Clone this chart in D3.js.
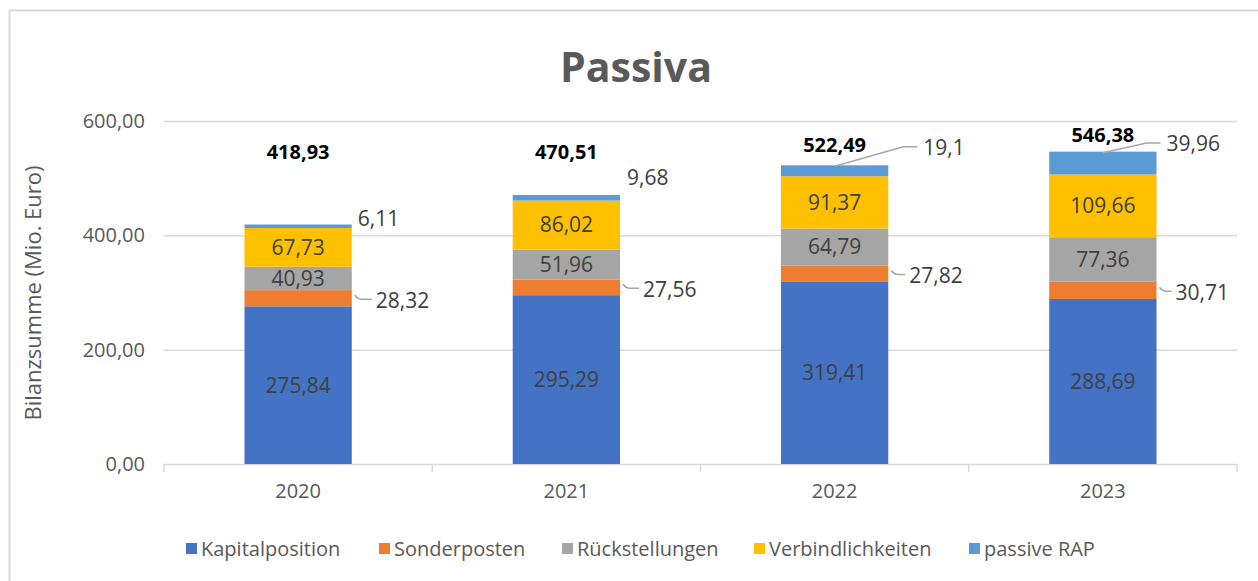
<!DOCTYPE html>
<html>
<head>
<meta charset="utf-8">
<script src="https://cdn.jsdelivr.net/npm/d3@7"></script>
<style>
  body { margin: 0; background: #fff; }
  text { font-family: "Open Sans", sans-serif; }
</style>
</head>
<body>
<script>
//chart data
var years = ["2020", "2021", "2022", "2023"];
var seriesNames = ["Kapitalposition", "Sonderposten", "Rückstellungen", "Verbindlichkeiten", "passive RAP"];
var kapitalposition = [275.84, 295.29, 319.41, 288.69];
var sonderposten = [28.32, 27.56, 27.82, 30.71];
var rueckstellungen = [40.93, 51.96, 64.79, 77.36];
var verbindlichkeiten = [67.73, 86.02, 91.37, 109.66];
var passiveRAP = [6.11, 9.68, 19.1, 39.96];
var totals = [418.93, 470.51, 522.49, 546.38];
var yTicks = [0, 200, 400, 600];

var colors = ["#4472C4", "#ED7D31", "#A5A5A5", "#FFC000", "#5B9BD5"];

//label placement (pixels), tuned by hand like in the original chart
var totalLift = [73, 43, 20, 17];
var sonderDx = [24, 23, 21, 19];
var rapDx = [6, 7, 35, 10];
var rapDy = [-8, -20, -23, -19];
var rapLeader = [false, false, true, true];

var w = 1258, h = 581;

var svg = d3.select("body")
    .append("svg")
    .attr("width", w)
    .attr("height", h);

//outer frame
svg.append("rect")
    .attr("x", 9.5)
    .attr("y", 10.5)
    .attr("width", 1300)
    .attr("height", 700)
    .style("fill", "none")
    .style("stroke", "#d9d9d9")
    .style("stroke-width", 2);

var x = d3.scaleBand()
    .domain(years)
    .range([164, 1237])
    .paddingInner(0.6)
    .paddingOuter(0.3);

var y = d3.scaleLinear()
    .domain([0, 600])
    .range([464, 121]);

var fmt = function(v){
    return String(v).replace(".", ",");
};
var fmt2 = function(v){
    return v.toFixed(2).replace(".", ",");
};

//gridlines
svg.append("g")
    .selectAll("line")
    .data(yTicks.slice(1))
    .enter()
    .append("line")
    .attr("x1", 164)
    .attr("x2", 1237)
    .attr("y1", function(d){ return y(d) + 0.5; })
    .attr("y2", function(d){ return y(d) + 0.5; })
    .style("stroke", "#d9d9d9")
    .style("stroke-width", 1.5);

//y axis labels
var yAxis = d3.axisLeft(y)
    .tickValues(yTicks)
    .tickSize(0)
    .tickPadding(19)
    .tickFormat(fmt2);

var yg = svg.append("g")
    .attr("transform", "translate(164,0)")
    .call(yAxis);
yg.select(".domain").remove();
yg.selectAll("text")
    .style("font-size", "20px")
    .style("fill", "#595959")
    .style("font-family", "Open Sans, sans-serif");

//x axis
var xAxis = d3.axisBottom(x)
    .tickSize(0)
    .tickPadding(20);

var xg = svg.append("g")
    .attr("transform", "translate(0,464)")
    .call(xAxis);
xg.select(".domain")
    .attr("d", "M164,0.5H1237")
    .style("stroke", "#d9d9d9")
    .style("stroke-width", 1.5);
xg.selectAll("text")
    .style("font-size", "20px")
    .style("fill", "#595959")
    .style("font-family", "Open Sans, sans-serif");

//category boundary ticks
xg.selectAll(".sep")
    .data(d3.range(years.length + 1))
    .enter()
    .append("line")
    .attr("class", "sep")
    .attr("x1", function(i){ return 164 + i * x.step(); })
    .attr("x2", function(i){ return 164 + i * x.step(); })
    .attr("y1", 0)
    .attr("y2", 8)
    .style("stroke", "#d9d9d9")
    .style("stroke-width", 1.5);

//stack the series
var rows = years.map(function(yr, i){
    return {
        year: yr,
        s0: kapitalposition[i],
        s1: sonderposten[i],
        s2: rueckstellungen[i],
        s3: verbindlichkeiten[i],
        s4: passiveRAP[i]
    };
});
var keys = ["s0", "s1", "s2", "s3", "s4"];
var stacked = d3.stack().keys(keys)(rows);

var layers = svg.selectAll(".layer")
    .data(stacked)
    .enter()
    .append("g")
    .attr("class", "layer")
    .style("fill", function(d, i){ return colors[i]; });

layers.selectAll("rect")
    .data(function(d){ return d; })
    .enter()
    .append("rect")
    .attr("x", function(d){ return x(d.data.year); })
    .attr("width", x.bandwidth())
    .attr("y", function(d){ return y(d[1]); })
    .attr("height", function(d){ return y(d[0]) - y(d[1]); });

//labels inside bars (Kapitalposition, Rückstellungen, Verbindlichkeiten)
[0, 2, 3].forEach(function(k){
    svg.append("g")
        .selectAll("text")
        .data(stacked[k])
        .enter()
        .append("text")
        .attr("x", function(d){ return x(d.data.year) + x.bandwidth() / 2; })
        .attr("y", function(d){ return y((d[0] + d[1]) / 2); })
        .attr("dy", "0.35em")
        .attr("text-anchor", "middle")
        .style("font-size", "21px")
        .style("fill", "#404040")
        .text(function(d){ return fmt(d.data[keys[k]]); });
});

//Sonderposten labels to the right with small leader line
var sonder = svg.append("g");
stacked[1].forEach(function(d, i){
    var xr = x(d.data.year) + x.bandwidth();
    var ym = y((d[0] + d[1]) / 2);
    sonder.append("path")
        .attr("d", "M" + (xr + 3) + "," + (ym - 3) + "Q" + (xr + 6) + "," + (ym + 1) +
              " " + (xr + 10) + "," + (ym + 1) + "H" + (xr + sonderDx[i] - 4))
        .style("fill", "none")
        .style("stroke", "#a6a6a6")
        .style("stroke-width", 1.5);
    sonder.append("text")
        .attr("x", xr + sonderDx[i])
        .attr("y", ym + 2)
        .attr("dy", "0.35em")
        .style("font-size", "21px")
        .style("fill", "#404040")
        .text(fmt(sonderposten[i]));
});

//passive RAP labels
var rap = svg.append("g");
stacked[4].forEach(function(d, i){
    var xr = x(d.data.year) + x.bandwidth();
    var ym = y((d[0] + d[1]) / 2);
    var lx = xr + rapDx[i];
    var ly = ym + rapDy[i];
    if (rapLeader[i]) {
        var xc = x(d.data.year) + x.bandwidth() / 2;
        rap.append("path")
            .attr("d", "M" + xc + "," + (y(d[1]) + 1) + "L" + (lx - 20) + "," + (ly - 1) + "H" + (lx - 6))
            .style("fill", "none")
            .style("stroke", "#a6a6a6")
            .style("stroke-width", 1.5);
    }
    rap.append("text")
        .attr("x", lx)
        .attr("y", ly)
        .attr("dy", "0.35em")
        .style("font-size", "21px")
        .style("fill", "#404040")
        .text(fmt(passiveRAP[i]));
});

//total labels
svg.append("g")
    .selectAll("text")
    .data(totals)
    .enter()
    .append("text")
    .attr("x", function(d, i){ return x(years[i]) + x.bandwidth() / 2; })
    .attr("y", function(d, i){ return y(d) - totalLift[i]; })
    .attr("dy", "0.35em")
    .attr("text-anchor", "middle")
    .style("font-size", "20px")
    .style("font-weight", "bold")
    .style("fill", "#000")
    .text(fmt2);

//title
svg.append("text")
    .attr("x", 636)
    .attr("y", 82)
    .attr("text-anchor", "middle")
    .style("font-size", "41px")
    .style("font-weight", "bold")
    .style("fill", "#595959")
    .text("Passiva");

//y axis title
svg.append("text")
    .attr("transform", "translate(41,293) rotate(-90)")
    .attr("text-anchor", "middle")
    .style("font-size", "22px")
    .style("fill", "#595959")
    .text("Bilanzsumme (Mio. Euro)");

//legend
var legendX = [186, 379, 562, 754, 969];
var legend = svg.append("g")
    .attr("transform", "translate(0,549)");
var items = legend.selectAll("g")
    .data(seriesNames)
    .enter()
    .append("g")
    .attr("transform", function(d, i){ return "translate(" + legendX[i] + ",0)"; });
items.append("rect")
    .attr("x", 0)
    .attr("y", -6)
    .attr("width", 11)
    .attr("height", 11)
    .style("fill", function(d, i){ return colors[i]; });
items.append("text")
    .attr("x", 15)
    .attr("y", 0)
    .attr("dy", "0.35em")
    .style("font-size", "20px")
    .style("fill", "#595959")
    .text(function(d){ return d; });
</script>
</body>
</html>
